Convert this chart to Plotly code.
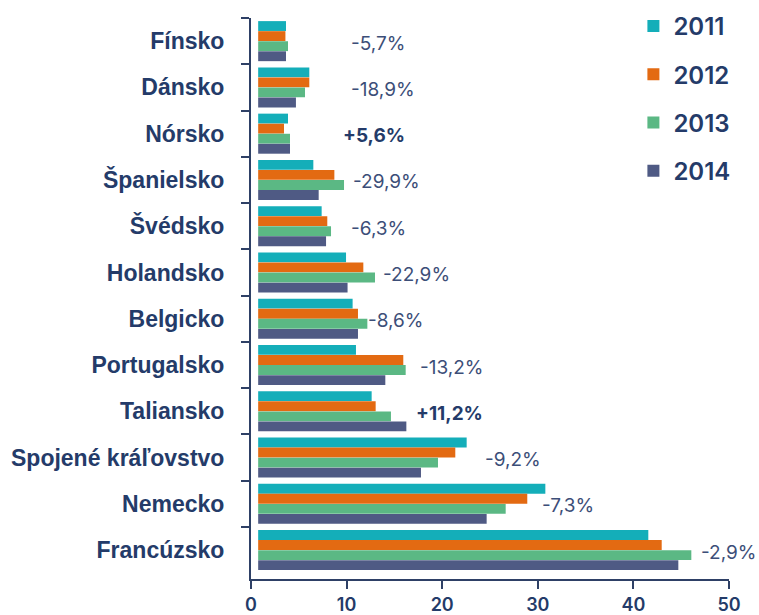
import plotly.graph_objects as go

countries = ["Fínsko", "Dánsko", "Nórsko", "Španielsko", "Švédsko", "Holandsko",
             "Belgicko", "Portugalsko", "Taliansko", "Spojené kráľovstvo", "Nemecko", "Francúzsko"]
years = ["2011", "2012", "2013", "2014"]
v2011 = [3.66, 6.1, 3.87, 6.52, 7.39, 9.94, 10.63, 10.98, 12.62, 22.56, 30.79, 41.56]
v2012 = [3.6, 6.1, 3.45, 8.72, 7.98, 11.75, 11.19, 15.93, 13.04, 21.37, 28.9, 42.96]
v2013 = [3.87, 5.65, 4.08, 9.73, 8.37, 12.97, 12.17, 16.18, 14.64, 19.56, 26.64, 46.06]
v2014 = [3.66, 4.7, 4.08, 7.08, 7.85, 10.1, 11.19, 14.05, 16.25, 17.78, 24.65, 44.7]
changes = ["-5,7%", "-18,9%", "+5,6%", "-29,9%", "-6,3%", "-22,9%",
           "-8,6%", "-13,2%", "+11,2%", "-9,2%", "-7,3%", "-2,9%"]
label_x = [10.3, 10.3, 9.4, 10.5, 10.3, 13.6, 12.0, 17.5, 17.0, 24.3, 30.2, 46.9]

series = [v2011, v2012, v2013, v2014]
colors = ["#14AEB9", "#E36A12", "#5BB884", "#4F5A84"]
BASE = 0.75

NAVY = "#243B69"
LIGHT_NAVY = "#3C4E78"

fig = go.Figure()
for yr, vals, col in zip(years, series, colors):
    fig.add_trace(go.Bar(
        y=countries, x=[v - BASE for v in vals], base=BASE, name=yr,
        orientation="h", marker=dict(color=col, line=dict(width=0)),
        legendgroup=yr,
    ))

for c, txt, lx in zip(countries, changes, label_x):
    bold = txt.startswith("+")
    fig.add_annotation(
        x=lx, y=c, xref="x", yref="y", text=f"<b>{txt}</b>" if bold else txt,
        showarrow=False, xanchor="left", yanchor="middle", yshift=-2,
        font=dict(family="Inter", size=19, color=NAVY if bold else LIGHT_NAVY),
    )

fig.update_layout(
    width=759, height=615,
    margin=dict(l=251, r=30, t=18, b=36, autoexpand=False),
    paper_bgcolor="white", plot_bgcolor="white",
    barmode="group", bargap=0.13, bargroupgap=0.02,
    showlegend=True,
    legend=dict(
        x=0.8, y=1.025, xanchor="left", yanchor="top",
        traceorder="grouped", tracegroupgap=14,
        font=dict(family="Inter", size=24, color=NAVY, weight=600),
        bgcolor="rgba(0,0,0,0)",
    ),
    xaxis=dict(
        range=[0, 50], tickvals=[0, 10, 20, 30, 40, 50],
        showgrid=False, zeroline=False, automargin=False,
        showline=True, linecolor="#2E4066", linewidth=2,
        ticks="outside", ticklen=8, tickwidth=2, tickcolor="#2E4066",
        tickfont=dict(family="Inter", size=18, color=NAVY, weight=600),
        ticklabelstandoff=0,
    ),
    yaxis=dict(
        categoryorder="array", categoryarray=countries,
        range=[11.625, -0.5], automargin=False,
        showgrid=False, zeroline=False,
        showline=True, linecolor="#2E4066", linewidth=2,
        ticks="outside", ticklen=8, tickwidth=2, tickcolor="#2E4066",
        tickson="boundaries",
        tickfont=dict(family="Liberation Sans", size=23, color=NAVY, weight="bold"),
        ticklabelstandoff=20,
    ),
)

fig.write_html("out.html")
